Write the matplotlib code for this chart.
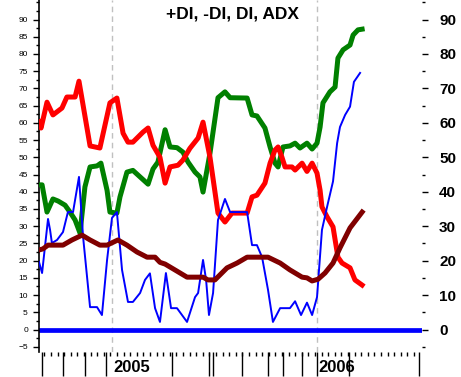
import numpy as np
import matplotlib
matplotlib.use('Agg')
import matplotlib.pyplot as plt
import matplotlib.transforms as mtransforms

plt.rcParams['font.family'] = ['Liberation Sans', 'DejaVu Sans']

# x positions are fractional years
minus_di_t = [2004.644, 2004.654, 2004.683, 2004.712, 2004.756, 2004.780, 2004.820, 2004.839,
              2004.893, 2004.941, 2004.990, 2005.024, 2005.054, 2005.078, 2005.102, 2005.151,
              2005.176, 2005.200, 2005.234, 2005.259, 2005.283, 2005.322, 2005.346, 2005.380,
              2005.420, 2005.444, 2005.478, 2005.517, 2005.551, 2005.585, 2005.659, 2005.683,
              2005.707, 2005.746, 2005.771, 2005.795, 2005.810, 2005.829, 2005.844, 2005.878,
              2005.893, 2005.927, 2005.951, 2005.976, 2006.000, 2006.015, 2006.024, 2006.049,
              2006.078, 2006.102, 2006.122, 2006.161, 2006.185, 2006.220]
minus_di = [60.3, 58.5, 66.0, 62.3, 64.3, 67.5, 67.5, 72.1,
            53.3, 52.7, 65.8, 67.2, 57.0, 54.4, 54.4, 57.3,
            58.5, 53.5, 50.0, 42.5, 47.2, 47.7, 49.2, 52.6,
            55.6, 60.2, 50.0, 33.8, 31.2, 33.8, 33.8, 38.5,
            39.0, 42.5, 48.3, 52.1, 53.0, 50.0, 47.2, 47.2,
            46.3, 48.3, 45.9, 48.3, 45.4, 40.4, 35.6, 32.7,
            29.8, 21.0, 19.3, 17.9, 14.4, 12.9]

plus_di_t = [2004.644, 2004.659, 2004.683, 2004.712, 2004.737, 2004.771, 2004.795, 2004.820,
             2004.844, 2004.868, 2004.893, 2004.927, 2004.946, 2004.976, 2004.990, 2005.024,
             2005.039, 2005.073, 2005.102, 2005.137, 2005.176, 2005.200, 2005.224, 2005.259,
             2005.283, 2005.317, 2005.346, 2005.371, 2005.405, 2005.429, 2005.444, 2005.478,
             2005.517, 2005.551, 2005.576, 2005.659, 2005.683, 2005.707, 2005.746, 2005.771,
             2005.795, 2005.810, 2005.834, 2005.868, 2005.893, 2005.917, 2005.951, 2005.976,
             2006.000, 2006.015, 2006.029, 2006.063, 2006.088, 2006.102, 2006.127, 2006.161,
             2006.176, 2006.200, 2006.220]
plus_di = [42.0, 42.0, 34.1, 37.9, 37.3, 36.1, 34.1, 31.8,
           28.0, 41.4, 47.2, 47.5, 48.3, 40.4, 34.1, 33.8,
           38.5, 45.7, 46.2, 44.3, 42.2, 46.6, 48.6, 58.0,
           53.0, 52.8, 51.5, 48.6, 45.7, 44.3, 39.9, 51.2,
           67.3, 69.0, 67.3, 67.2, 62.3, 62.0, 58.5, 53.0,
           48.3, 47.2, 53.0, 53.3, 54.1, 52.7, 54.1, 52.4,
           54.1, 58.8, 65.8, 69.0, 70.4, 78.8, 81.2, 82.6,
           85.5, 87.0, 87.2]

di_t = [2004.644, 2004.659, 2004.688, 2004.698, 2004.707, 2004.732, 2004.761, 2004.785,
        2004.810, 2004.839, 2004.859, 2004.893, 2004.927, 2004.951, 2004.976, 2005.000,
        2005.024, 2005.049, 2005.078, 2005.102, 2005.137, 2005.161, 2005.185, 2005.210,
        2005.234, 2005.263, 2005.288, 2005.317, 2005.366, 2005.405, 2005.420, 2005.444,
        2005.459, 2005.473, 2005.493, 2005.517, 2005.551, 2005.576, 2005.659, 2005.683,
        2005.707, 2005.732, 2005.761, 2005.785, 2005.820, 2005.868, 2005.893, 2005.922,
        2005.951, 2005.976, 2006.000, 2006.024, 2006.049, 2006.078, 2006.098, 2006.112,
        2006.137, 2006.161, 2006.180, 2006.210]
di = [19.6, 16.4, 32.1, 28.9, 25.1, 26.0, 28.3, 34.1,
      34.1, 44.3, 26.9, 6.5, 6.5, 4.2, 20.2, 32.4,
      34.1, 17.3, 8.0, 8.0, 10.6, 14.4, 16.3, 6.2,
      2.2, 16.4, 6.2, 6.2, 2.2, 9.4, 10.6, 20.2,
      14.4, 4.2, 10.6, 31.8, 37.9, 34.1, 34.1, 24.5,
      24.5, 21.0, 11.5, 2.2, 6.2, 6.2, 8.2, 4.2,
      7.8, 4.2, 9.4, 28.9, 35.6, 43.0, 54.1, 58.8,
      62.3, 64.7, 71.9, 74.5]

adx_t = [2004.644, 2004.663, 2004.688, 2004.761, 2004.805, 2004.854, 2004.893, 2004.941,
         2004.976, 2005.029, 2005.073, 2005.122, 2005.171, 2005.210, 2005.234, 2005.259,
         2005.307, 2005.366, 2005.444, 2005.468, 2005.502, 2005.561, 2005.610, 2005.659,
         2005.761, 2005.820, 2005.868, 2005.927, 2005.951, 2005.976, 2006.005, 2006.039,
         2006.078, 2006.112, 2006.161, 2006.220]
adx = [23.1, 23.4, 24.5, 24.5, 26.0, 27.4, 26.0, 24.5,
       24.5, 26.0, 24.5, 22.5, 21.0, 21.0, 19.5, 19.0,
       17.3, 15.2, 15.2, 14.4, 14.4, 17.9, 19.3, 21.0,
       21.0, 19.3, 17.3, 15.2, 15.0, 14.1, 14.6, 16.4,
       19.3, 23.7, 29.5, 34.1]

zero_level = 0
year_marks = [2005, 2006]
year_labels = ['2005', '2006']
long_ticks = [2004.659, 2004.761, 2004.868, 2004.971, 2005.293, 2005.473, 2005.493,
              2005.634, 2005.761, 2005.834, 2005.927, 2006.000, 2006.156, 2006.498]

fig = plt.figure(figsize=(4.61, 3.77), dpi=100)
ax = fig.add_axes([39 / 461, 25 / 377, 383 / 461, 352 / 377])
ax.set_xlim(2004.644, 2006.512)
ax.set_ylim(-6.53, 95.67)

for xm in year_marks:
    ax.axvline(xm, color='#c0c0c0', lw=1, ls=(0, (4, 3)), zorder=1)

ax.axhline(zero_level, color='#0000ff', lw=3.4, zorder=2)
ax.plot(plus_di_t, plus_di, color='#008000', lw=3.6, zorder=3)
ax.plot(minus_di_t, minus_di, color='#ff0000', lw=3.6, zorder=4)
ax.plot(di_t, di, color='#0000ff', lw=1.4, zorder=5)
ax.plot(adx_t, adx, color='#800000', lw=3.6, zorder=6)

for s in ['top', 'right', 'bottom']:
    ax.spines[s].set_visible(False)
ax.spines['left'].set_linewidth(1.2)

ax.set_yticks(np.arange(-5, 91, 5))
ax.set_yticks(np.arange(-5, 96, 2.5), minor=True)
ax.tick_params(axis='y', which='major', length=4, width=1, labelsize=6, pad=4)
ax.tick_params(axis='y', which='minor', length=2, width=1)

ax.set_xticks(long_ticks)
ax.set_xticklabels([])
ax.set_xticks(np.arange(2004.670, 2006.50, 0.0322), minor=True)
ax.tick_params(axis='x', which='major', length=17, width=1, pad=0)
ax.tick_params(axis='x', which='minor', length=3, width=1)

trans = mtransforms.blended_transform_factory(ax.transData, ax.transAxes)
for xm, lab in zip(year_marks, year_labels):
    ax.text(xm + 0.008, -0.022, lab, transform=trans, ha='left', va='top',
            fontsize=12, fontweight='bold')

ax2 = ax.twinx()
ax2.set_ylim(ax.get_ylim())
for s in ['top', 'right', 'bottom', 'left']:
    ax2.spines[s].set_visible(False)
ax2.set_yticks(np.arange(0, 91, 10))
ax2.set_yticks(np.arange(-5, 96, 10), minor=True)
ax2.tick_params(axis='y', which='major', length=4.3, width=1, labelsize=11, pad=8)
ax2.tick_params(axis='y', which='minor', length=2.2, width=1)
for t in ax2.get_yticklabels():
    t.set_fontweight('bold')

fig.text(232 / 461, 1 - 14 / 377, '+DI, -DI, DI, ADX', ha='center', va='center',
         fontsize=12.5, fontweight='bold')

fig.savefig('out.png', dpi=100)
